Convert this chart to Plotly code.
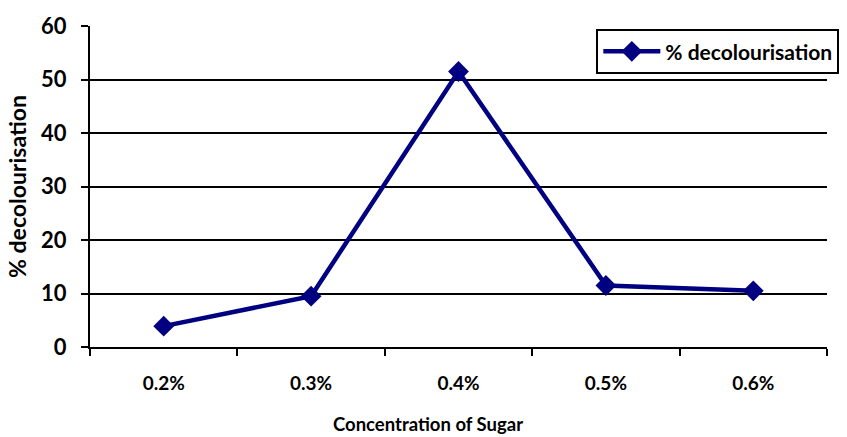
import plotly.graph_objects as go

# Sugar concentration vs. decolourisation
concentrations = ["0.2%", "0.3%", "0.4%", "0.5%", "0.6%"]
decolourisation = [3.9, 9.5, 51.5, 11.5, 10.5]
y_ticks = [0, 10, 20, 30, 40, 50, 60]

NAVY = "#000080"
FONT = "Lato, 'Open Sans', sans-serif"

fig = go.Figure()
fig.add_trace(go.Scatter(
    x=concentrations,
    y=decolourisation,
    mode="lines+markers",
    name="% decolourisation",
    line=dict(color=NAVY, width=4.5),
    marker=dict(symbol="diamond", size=16, color=NAVY),
))

# x-axis title sits slightly left of the plot centre
fig.add_annotation(
    text="Concentration of Sugar",
    xref="paper", yref="paper", x=0.4586, y=-0.24,
    xanchor="center", yanchor="middle", showarrow=False,
    font=dict(size=18.5, weight="bold", family=FONT, color="black"),
)

fig.update_layout(
    width=847,
    height=437,
    margin=dict(l=90, r=20, t=26, b=90, autoexpand=False),
    paper_bgcolor="white",
    plot_bgcolor="white",
    font=dict(family=FONT, color="black"),
    showlegend=True,
    legend=dict(
        x=0.687, y=0.99, xanchor="left", yanchor="top",
        bordercolor="black", borderwidth=2, bgcolor="white",
        font=dict(size=21, family=FONT, weight="bold"),
        itemwidth=57,
    ),
    xaxis=dict(
        type="category",
        range=[-0.5, 4.5],
        tickson="boundaries",
        ticks="outside", ticklen=7, tickwidth=2, tickcolor="black",
        showline=True, linecolor="black", linewidth=2,
        showgrid=False,
        tickfont=dict(size=19, weight="bold"),
        ticklabelstandoff=18,
    ),
    yaxis=dict(
        range=[0, 60],
        tickvals=y_ticks,
        ticks="outside", ticklen=7, tickwidth=2, tickcolor="black",
        showline=True, linecolor="black", linewidth=2,
        showgrid=True, gridcolor="black", gridwidth=2,
        zeroline=False,
        tickfont=dict(size=22, weight="bold"),
        ticklabelstandoff=10,
        title=dict(text="% decolourisation", font=dict(size=23, weight="bold"), standoff=8),
    ),
)

fig.write_html("out.html")
